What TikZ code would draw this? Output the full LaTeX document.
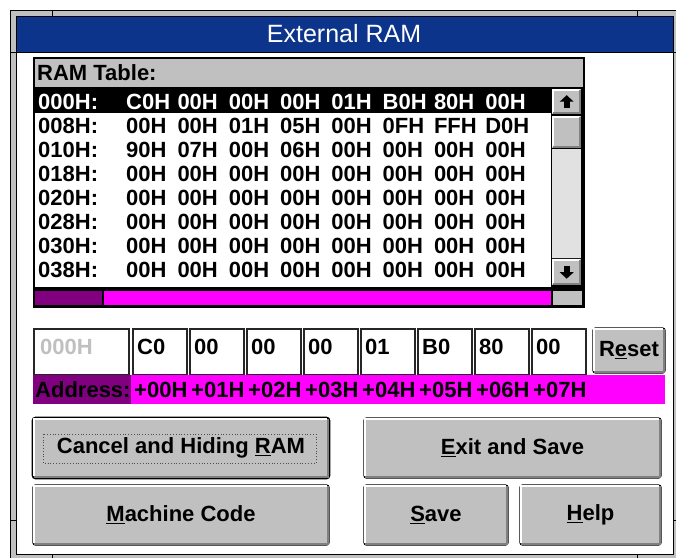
\documentclass[tikz,border=0pt]{standalone}
\usepackage{fontspec}
\setmainfont{Liberation Sans}
\usetikzlibrary{patterns.meta}

\definecolor{face}{HTML}{C0C0C0}
\definecolor{btnshadow}{HTML}{808080}
\definecolor{capblue}{RGB}{18,68,152}
\definecolor{capdot}{RGB}{0,0,96}
\definecolor{plum}{HTML}{800080}
\definecolor{hotmag}{HTML}{FF00FF}
\definecolor{dimtext}{HTML}{C0C0C0}

% hot-key letter
\newcommand\hk[1]{\underline{#1}}
% 3-D edge inside a raised control
\newcommand\bevel[2]{%
  \draw[white, line width=2pt] ([shift={(#2,#2+0.5pt)}]#1.south west) |- ([shift={(-#2-0.5pt,-#2)}]#1.north east);
  \draw[btnshadow, line width=2pt] ([shift={(#2,#2)}]#1.south west) -| ([shift={(-#2,-#2)}]#1.north east);
}

\tikzset{
  ui/.style={font=\fontsize{22}{24}\selectfont\bfseries, inner sep=0pt},
  cell/.style={ui, anchor=base west},
  editbox/.style={draw=black!85, line width=1.5pt, fill=white, inner sep=0pt, anchor=north west},
  pushbtn/.style={ui, fill=face, draw=black, line width=1.3pt, rounded corners=2.5pt},
  defaultbtn/.style={pushbtn, line width=2.6pt},
  sbtn/.style={fill=face, inner sep=0pt, anchor=north west},
}

\begin{document}
\begin{tikzpicture}[x=1pt, y=-1pt]
\useasboundingbox (0,0) rectangle (676,557);
\fill[white] (0,0) rectangle (676,557);

% ---- window frame ----
\filldraw[fill=face, draw=black, line width=1pt] (10.5,10.5) rectangle (690,570);
\filldraw[fill=white, draw=black, line width=1pt] (16,16) rectangle (673,554);
\foreach \xx in {52,637} {
  \draw[black, line width=1pt] (\xx,10) -- (\xx,16);
  \draw[black, line width=1pt] (\xx,554) -- (\xx,562);
}
\foreach \yy in {52,520} {
  \draw[black, line width=1pt] (10,\yy) -- (16,\yy);
  \draw[black, line width=1pt] (673,\yy) -- (682,\yy);
}

% ---- caption ----
\fill[capblue] (16.5,16.5) rectangle (672.5,52);
\fill[pattern={Dots[distance=2pt, radius=0.65pt]}, pattern color=capdot] (16.5,16.5) rectangle (672.5,52);
\draw[black, line width=1pt] (16,52) -- (673,52);
\node[font=\fontsize{25}{28}\selectfont, text=white, inner sep=0pt] (title) at (344,34) {External RAM};

% ---- RAM table group ----
\fill[face] (33,57) rectangle (583,88);
\draw[black, line width=1.2pt] (33,88) -- (583,88);
\node[cell] (hdr) at (37,80) {RAM Table:};

% highlighted row
\fill[black] (34,89) rectangle (551,113);

% rows
\node[cell, text=white] (lab0) at (38,109) {000H:};
\foreach \b [count=\c from 0] in {C0H,00H,00H,00H,01H,B0H,80H,00H}
  \node[cell, text=white] (cell0\c) at ({126+51.3*\c},109) {\b};
\foreach \lab/\bytes [count=\r from 1] in {
    008H/{00H,00H,01H,05H,00H,0FH,FFH,D0H},
    010H/{90H,07H,00H,06H,00H,00H,00H,00H},
    018H/{00H,00H,00H,00H,00H,00H,00H,00H},
    020H/{00H,00H,00H,00H,00H,00H,00H,00H},
    028H/{00H,00H,00H,00H,00H,00H,00H,00H},
    030H/{00H,00H,00H,00H,00H,00H,00H,00H},
    038H/{00H,00H,00H,00H,00H,00H,00H,00H}} {
  \node[cell] (lab\r) at (38,{109+24*\r}) {\lab:};
  \foreach \b [count=\c from 0] in \bytes
    \node[cell] (cell\r\c) at ({126+51.3*\c},{109+24*\r}) {\b};
}

% vertical scroll bar
\fill[black] (551,88) rectangle (583,291);
\node[sbtn, minimum width=29pt, minimum height=25pt] (up) at (552,89) {};
\bevel{up}{1.2pt}
\fill[black] ([shift={(-7pt,0pt)}]up.center) -- ([shift={(7pt,0pt)}]up.center) -- ([shift={(0pt,6.5pt)}]up.center) -- cycle;
\fill[black] ([shift={(-3pt,0.5pt)}]up.center) rectangle ([shift={(3pt,-6pt)}]up.center);
\node[sbtn, minimum width=29pt, minimum height=32pt] (thumb) at (552,116) {};
\bevel{thumb}{1.2pt}
\fill[white] (552,149) rectangle (581,258);
\fill[pattern={Dots[distance=2pt, radius=0.6pt]}, pattern color=btnshadow] (552,149) rectangle (581,258);
\node[sbtn, minimum width=29pt, minimum height=26pt] (down) at (552,259) {};
\bevel{down}{1.2pt}
\fill[black] ([shift={(-7pt,0pt)}]down.center) -- ([shift={(7pt,0pt)}]down.center) -- ([shift={(0pt,-6.5pt)}]down.center) -- cycle;
\fill[black] ([shift={(-3pt,-0.5pt)}]down.center) rectangle ([shift={(3pt,6pt)}]down.center);

% horizontal bar
\fill[black] (33,287) rectangle (583,306);
\fill[plum] (34,291) rectangle (102,305);
\fill[hotmag] (104,291) rectangle (551,305);
\fill[face] (553,291) rectangle (582,305);

% group outline
\node[draw=black, line width=1.5pt, inner sep=0pt, anchor=north west,
      minimum width=550pt, minimum height=249pt] (table) at (33,57) {};

% ---- byte editor row ----
\node[editbox, minimum width=95pt, minimum height=46pt] (addrbox) at (33,328) {};
\node[cell, text=dimtext] (addrtxt) at (40,354) {000H};
\foreach \v [count=\c from 0] in {C0,00,00,00,01,B0,80,00} {
  \node[editbox, minimum width=54pt, minimum height=46pt] (ed\c) at ({132+57*\c},328) {};
  \node[cell] (edtxt\c) at ({137+57*\c},354) {\v};
}
\node[pushbtn, minimum width=72pt, minimum height=45pt] (reset) at (629,350.5) {R\hk{e}set};
\bevel{reset}{1.8pt}

% address ruler
\fill[plum] (33,375) rectangle (131,404);
\fill[hotmag] (131,375) rectangle (665,404);
\node[cell] (addr) at (35,397) {Address:};
\foreach \o [count=\c from 0] in {00,01,02,03,04,05,06,07}
  \node[cell] (off\c) at ({134+57*\c},397) {+\o H};

% ---- command buttons ----
\node[defaultbtn, minimum width=296pt, minimum height=60pt] (cancel) at (181,448) {Cancel and Hiding \hk{R}AM};
\bevel{cancel}{2.6pt}
\draw[black!70, dotted, line width=0.8pt] (43,434) rectangle (316,463);
\node[pushbtn, minimum width=297pt, minimum height=60pt] (exitsave) at (512.5,448) {\hk{E}xit and Save};
\bevel{exitsave}{1.8pt}
\node[pushbtn, minimum width=296pt, minimum height=60pt] (machine) at (181,515) {\hk{M}achine Code};
\bevel{machine}{1.8pt}
\node[pushbtn, minimum width=144pt, minimum height=60pt] (save) at (436,515) {\hk{S}ave};
\bevel{save}{1.8pt}
\node[pushbtn, minimum width=141pt, minimum height=60pt] (help) at (590.5,515) {\hk{H}elp};
\bevel{help}{1.8pt}
\end{tikzpicture}
\end{document}
